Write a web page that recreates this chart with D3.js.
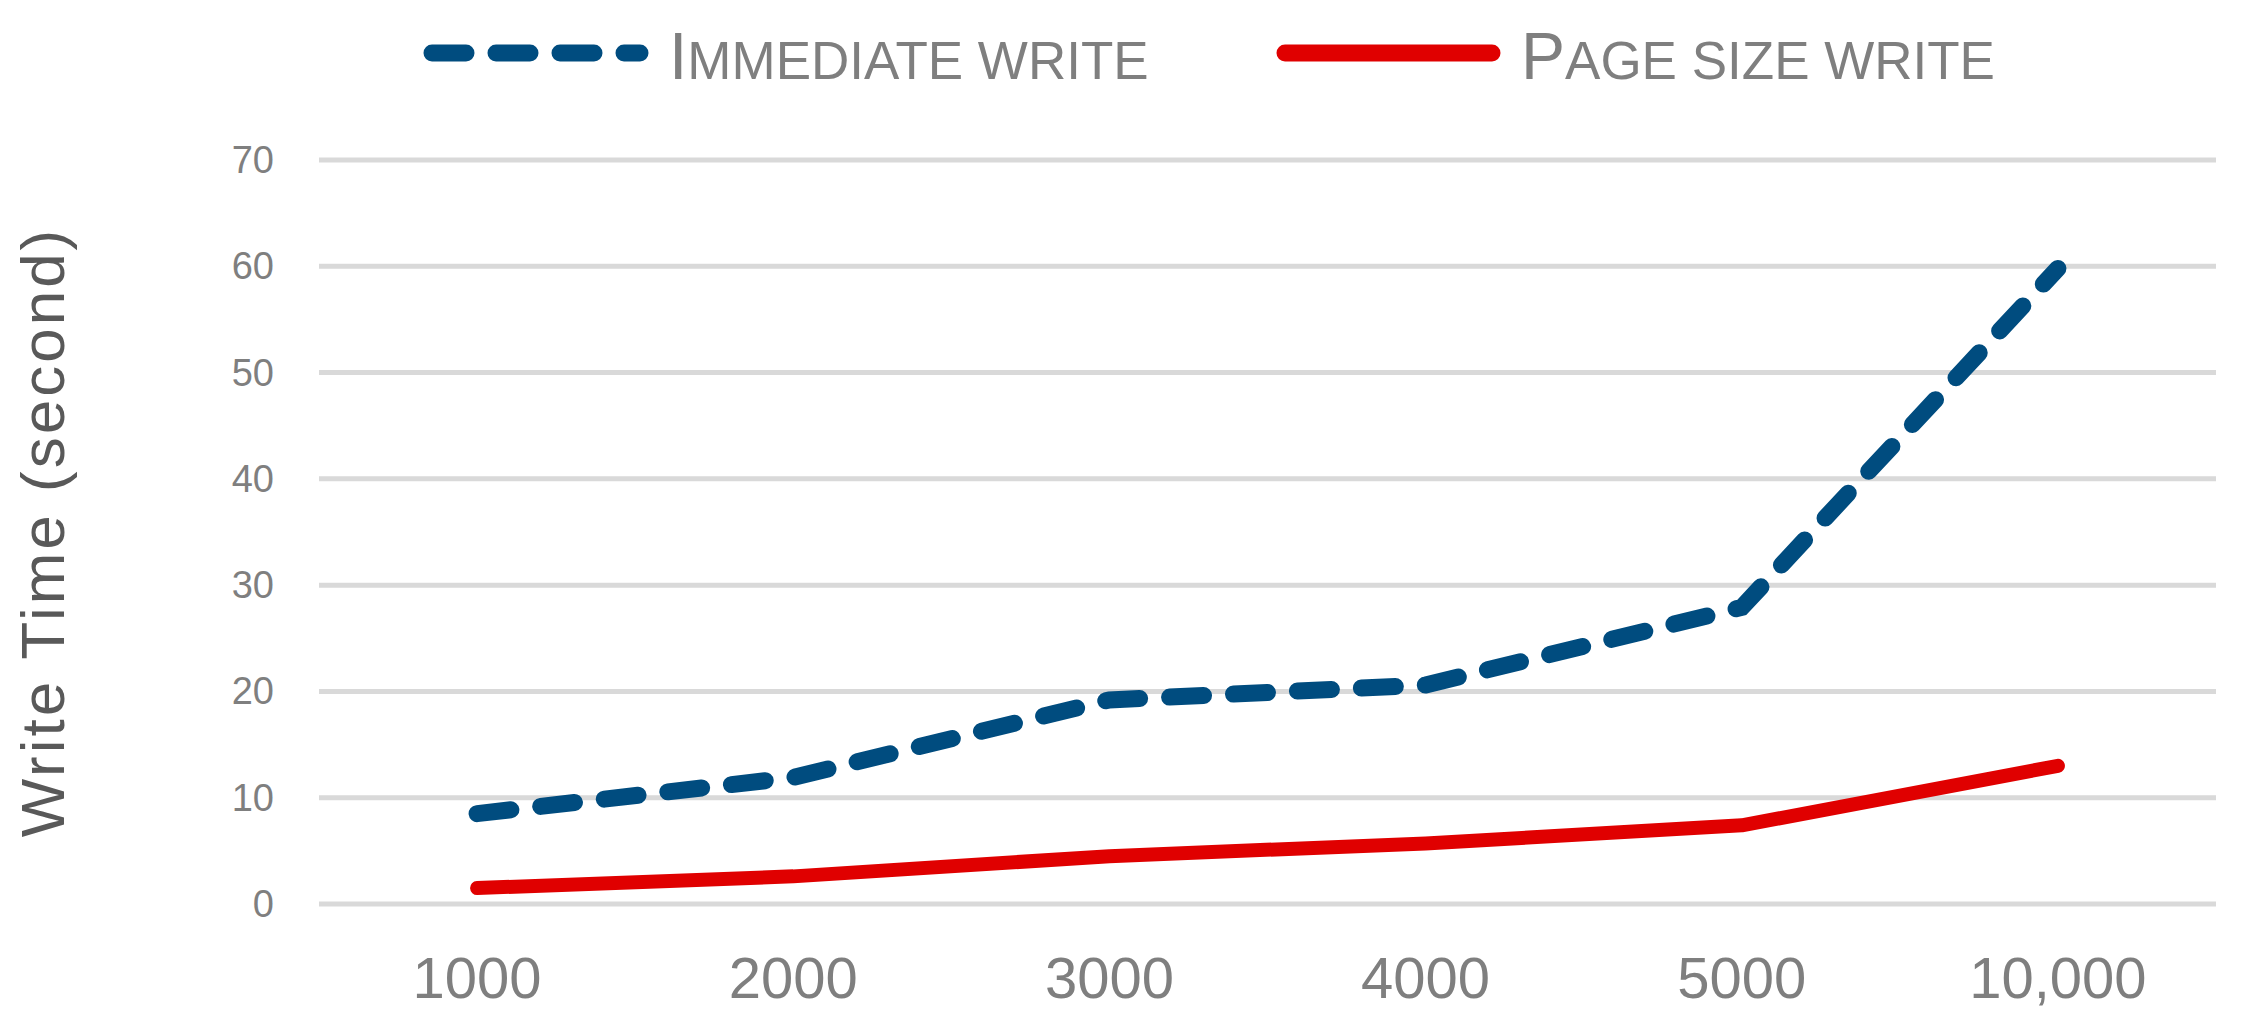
<!DOCTYPE html>
<html><head><meta charset="utf-8">
<script src="https://cdn.jsdelivr.net/npm/d3@7"></script>
<style>body{margin:0;background:#fff}svg{display:block;font-family:"Liberation Sans",Arial,sans-serif}</style>
</head><body><svg id="c" width="2256" height="1036"></svg>
<script>
const categories = ["1000","2000","3000","4000","5000","10,000"];
const immediateWrite = [8.5, 11.9, 19.2, 20.6, 27.9, 59.8];
const pageSizeWrite = [1.5, 2.6, 4.5, 5.7, 7.4, 13.0];
const yTicks = [0,10,20,30,40,50,60,70];

const svg = d3.select("#c");
const x = d3.scaleBand().domain(categories).range([319, 2216]);
const y = d3.scaleLinear().domain([0,70]).range([904, 160]);
const cx = d => x(d) + x.bandwidth()/2;

svg.append("g").selectAll("line").data(yTicks).join("line")
  .attr("x1",319).attr("x2",2216).attr("y1",d=>y(d)).attr("y2",d=>y(d))
  .attr("stroke","#d9d9d9").attr("stroke-width",5);
svg.append("g").selectAll("text").data(yTicks).join("text")
  .attr("x",274).attr("y",d=>y(d)+13).attr("text-anchor","end")
  .attr("font-size",38).attr("fill","#7f7f7f").text(d=>d);
svg.append("g").selectAll("text").data(categories).join("text")
  .attr("x",d=>cx(d)).attr("y",998).attr("text-anchor","middle")
  .attr("font-size",58).attr("fill","#7f7f7f").text(d=>d);
svg.append("text").attr("transform","translate(64,532) rotate(-90)")
  .attr("text-anchor","middle").attr("font-size",62).attr("fill","#595959")
  .attr("letter-spacing",3).text("Write Time (second)");

const line = d3.line().x((d,i)=>cx(categories[i])).y(d=>y(d));
svg.append("path").attr("d",line(pageSizeWrite)).attr("fill","none")
  .attr("stroke","#e00000").attr("stroke-width",14).attr("stroke-linecap","round").attr("stroke-linejoin","round");
svg.append("path").attr("d",line(immediateWrite)).attr("fill","none")
  .attr("stroke","#004c7f").attr("stroke-width",17).attr("stroke-linecap","round")
  .attr("stroke-dasharray","34 30");

// legend
function legendText(xp, first, rest){
  const t = svg.append("text").attr("x",xp).attr("y",79).attr("fill","#7f7f7f");
  t.append("tspan").attr("font-size",66).text(first);
  t.append("tspan").attr("font-size",53).text(rest);
}
svg.append("line").attr("x1",432).attr("x2",640).attr("y1",53).attr("y2",53)
  .attr("stroke","#004c7f").attr("stroke-width",17).attr("stroke-linecap","round").attr("stroke-dasharray","34 30");
legendText(669, "I", "MMEDIATE WRITE");
svg.append("line").attr("x1",1285).attr("x2",1492).attr("y1",53).attr("y2",53)
  .attr("stroke","#e00000").attr("stroke-width",17).attr("stroke-linecap","round");
legendText(1521, "P", "AGE SIZE WRITE");
</script></body></html>
